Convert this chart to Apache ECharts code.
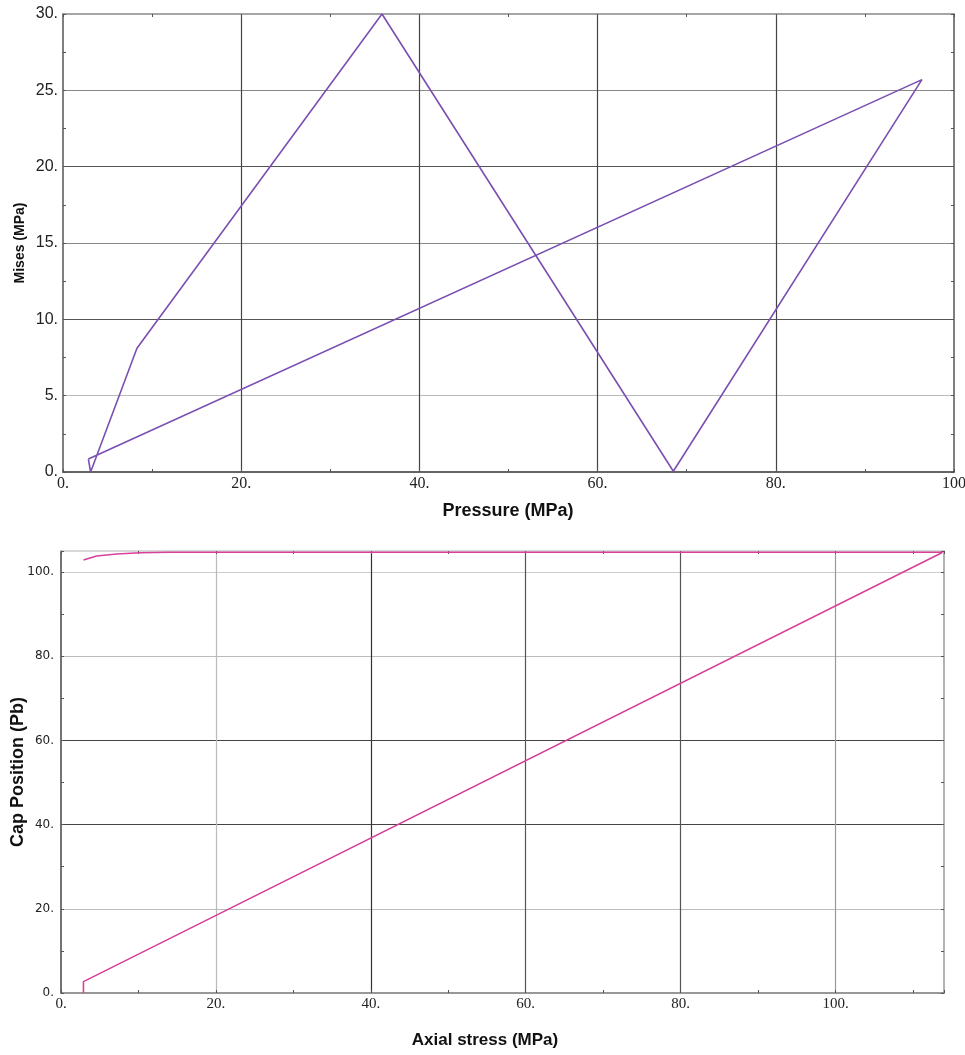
<!DOCTYPE html>
<html>
<head>
<meta charset="utf-8">
<script src="https://cdn.jsdelivr.net/npm/echarts@6/dist/echarts.min.js"></script>
<style>
html,body{margin:0;padding:0;background:#fff;}
#c{width:965px;height:1055px;}
</style>
</head>
<body>
<div id="c"></div>
<script>
// Top chart: Mises vs Pressure
const pressure = [2.85, 3.1, 8.3, 35.8, 68.5, 96.4, 2.85];
const mises    = [0.85, 0.0, 8.1, 30.0, 0.05, 25.7, 0.85];
// Bottom chart: Cap Position vs Axial stress
const axialStress = [2.9, 2.9, 113.4, 113.8, 60, 20, 14, 10.2, 7.2, 4.6, 2.9];
const capPosition = [0, 2.7, 104.3, 104.7, 104.7, 104.7, 104.7, 104.6, 104.3, 103.8, 102.85];
// Tick labels
const topXTicks = [0, 20, 40, 60, 80, 100];
const topXLabels = ['0.', '20.', '40.', '60.', '80.', '100'];
const topYTicks = [0, 5, 10, 15, 20, 25, 30];
const topYLabels = ['0.', '5.', '10.', '15.', '20.', '25.', '30.'];
const botTicks = [0, 20, 40, 60, 80, 100];
const botLabels = ['0.', '20.', '40.', '60.', '80.', '100.'];
// Axis titles
const titles = ['Pressure (MPa)', 'Mises (MPa)', 'Axial stress (MPa)', 'Cap Position (Pb)'];

function fmt(ticks, labels) {
  return function (v) {
    for (let i = 0; i < ticks.length; i++) if (Math.abs(ticks[i] - v) < 1e-6) return labels[i];
    return '';
  };
}
const T = 'rgba(0,0,0,0)';
function pairs(xs, ys) { return xs.map((x, i) => [x, ys[i]]); }

const chart = echarts.init(document.getElementById('c'), null, {renderer: 'canvas'});
const tickStyle = {show: true, inside: true, length: 3, lineStyle: {color: '#555', width: 1}};
function line(color) { return {show: true, onZero: false, lineStyle: {color: color, width: 1.5}}; }
function title(text, x, y, size, rot) {
  return {type: 'text', x: x, y: y, rotation: rot ? Math.PI / 2 : 0,
    style: {text: text, fontFamily: 'Liberation Sans', fontWeight: 'bold', fontSize: size,
      fill: '#111', align: 'center', verticalAlign: 'middle'}};
}
chart.setOption({
  animation: false,
  backgroundColor: '#fff',
  grid: [
    {left: 63, top: 14, width: 891, height: 458, containLabel: false, outerBoundsMode: 'none'},
    {left: 61, top: 551, width: 883, height: 442, containLabel: false, outerBoundsMode: 'none'}
  ],
  graphic: [
    title(titles[0], 508, 511, 18, false),
    title(titles[1], 20, 243, 14, true),
    title(titles[2], 485, 1040, 17, false),
    title(titles[3], 18, 772, 18, true)
  ],
  xAxis: [
    {gridIndex: 0, type: 'value', min: 0, max: 100, interval: 10, position: 'bottom',
     axisLine: line('#333'),
     axisTick: tickStyle,
     axisLabel: {formatter: fmt(topXTicks, topXLabels), fontFamily: 'Liberation Serif', fontSize: 16, color: '#222', margin: 4},
     splitLine: {show: true, lineStyle: {width: 1.2, color: [T, T, '#444', T, '#444', T, '#444', T, '#444', T, T]}}},
    {gridIndex: 0, type: 'value', min: 0, max: 100, interval: 10, position: 'top',
     axisLine: line('#888'),
     axisTick: tickStyle, axisLabel: {show: false}, splitLine: {show: false}},
    {gridIndex: 1, type: 'value', min: 0, max: 114, interval: 10, position: 'bottom',
     axisLine: line('#777'),
     axisTick: tickStyle,
     axisLabel: {formatter: fmt(botTicks, botLabels), fontFamily: 'Liberation Serif', fontSize: 15, color: '#222', margin: 4},
     splitLine: {show: true, lineStyle: {width: 1.2, color: [T, T, '#bbb', T, '#333', T, '#555', T, '#555', T, '#999', T, T]}}},
    {gridIndex: 1, type: 'value', min: 0, max: 114, interval: 10, position: 'top',
     axisLine: line('#ccc'),
     axisTick: tickStyle, axisLabel: {show: false}, splitLine: {show: false}}
  ],
  yAxis: [
    {gridIndex: 0, type: 'value', min: 0, max: 30, interval: 2.5, position: 'left',
     axisLine: line('#555'),
     axisTick: tickStyle,
     axisLabel: {formatter: fmt(topYTicks, topYLabels), fontFamily: 'Liberation Sans', fontSize: 16, color: '#222', margin: 5},
     splitLine: {show: true, lineStyle: {width: 1.2, color: [T, T, '#bbb', T, '#555', T, '#888', T, '#555', T, '#888', T, T]}}},
    {gridIndex: 0, type: 'value', min: 0, max: 30, interval: 2.5, position: 'right',
     axisLine: line('#555'),
     axisTick: tickStyle, axisLabel: {show: false}, splitLine: {show: false}},
    {gridIndex: 1, type: 'value', min: 0, max: 105, interval: 10, position: 'left',
     axisLine: line('#444'),
     axisTick: tickStyle,
     axisLabel: {formatter: fmt(botTicks, botLabels), fontFamily: 'DejaVu Sans', fontSize: 12, color: '#222', margin: 7},
     splitLine: {show: true, lineStyle: {width: 1.2, color: [T, T, '#bbb', T, '#444', T, '#444', T, '#bbb', T, '#ccc', T]}}},
    {gridIndex: 1, type: 'value', min: 0, max: 105, interval: 10, position: 'right',
     axisLine: line('#999'),
     axisTick: tickStyle, axisLabel: {show: false}, splitLine: {show: false}}
  ],
  series: [
    {type: 'line', xAxisIndex: 0, yAxisIndex: 0, data: pairs(pressure, mises),
     showSymbol: false, symbol: 'none', lineStyle: {color: '#7a4fb2', width: 1.6}, z: 5},
    {type: 'line', xAxisIndex: 2, yAxisIndex: 2, data: pairs(axialStress, capPosition),
     showSymbol: false, symbol: 'none', lineStyle: {color: '#d8409c', width: 1.6}, z: 5}
  ]
});
</script>
</body>
</html>
